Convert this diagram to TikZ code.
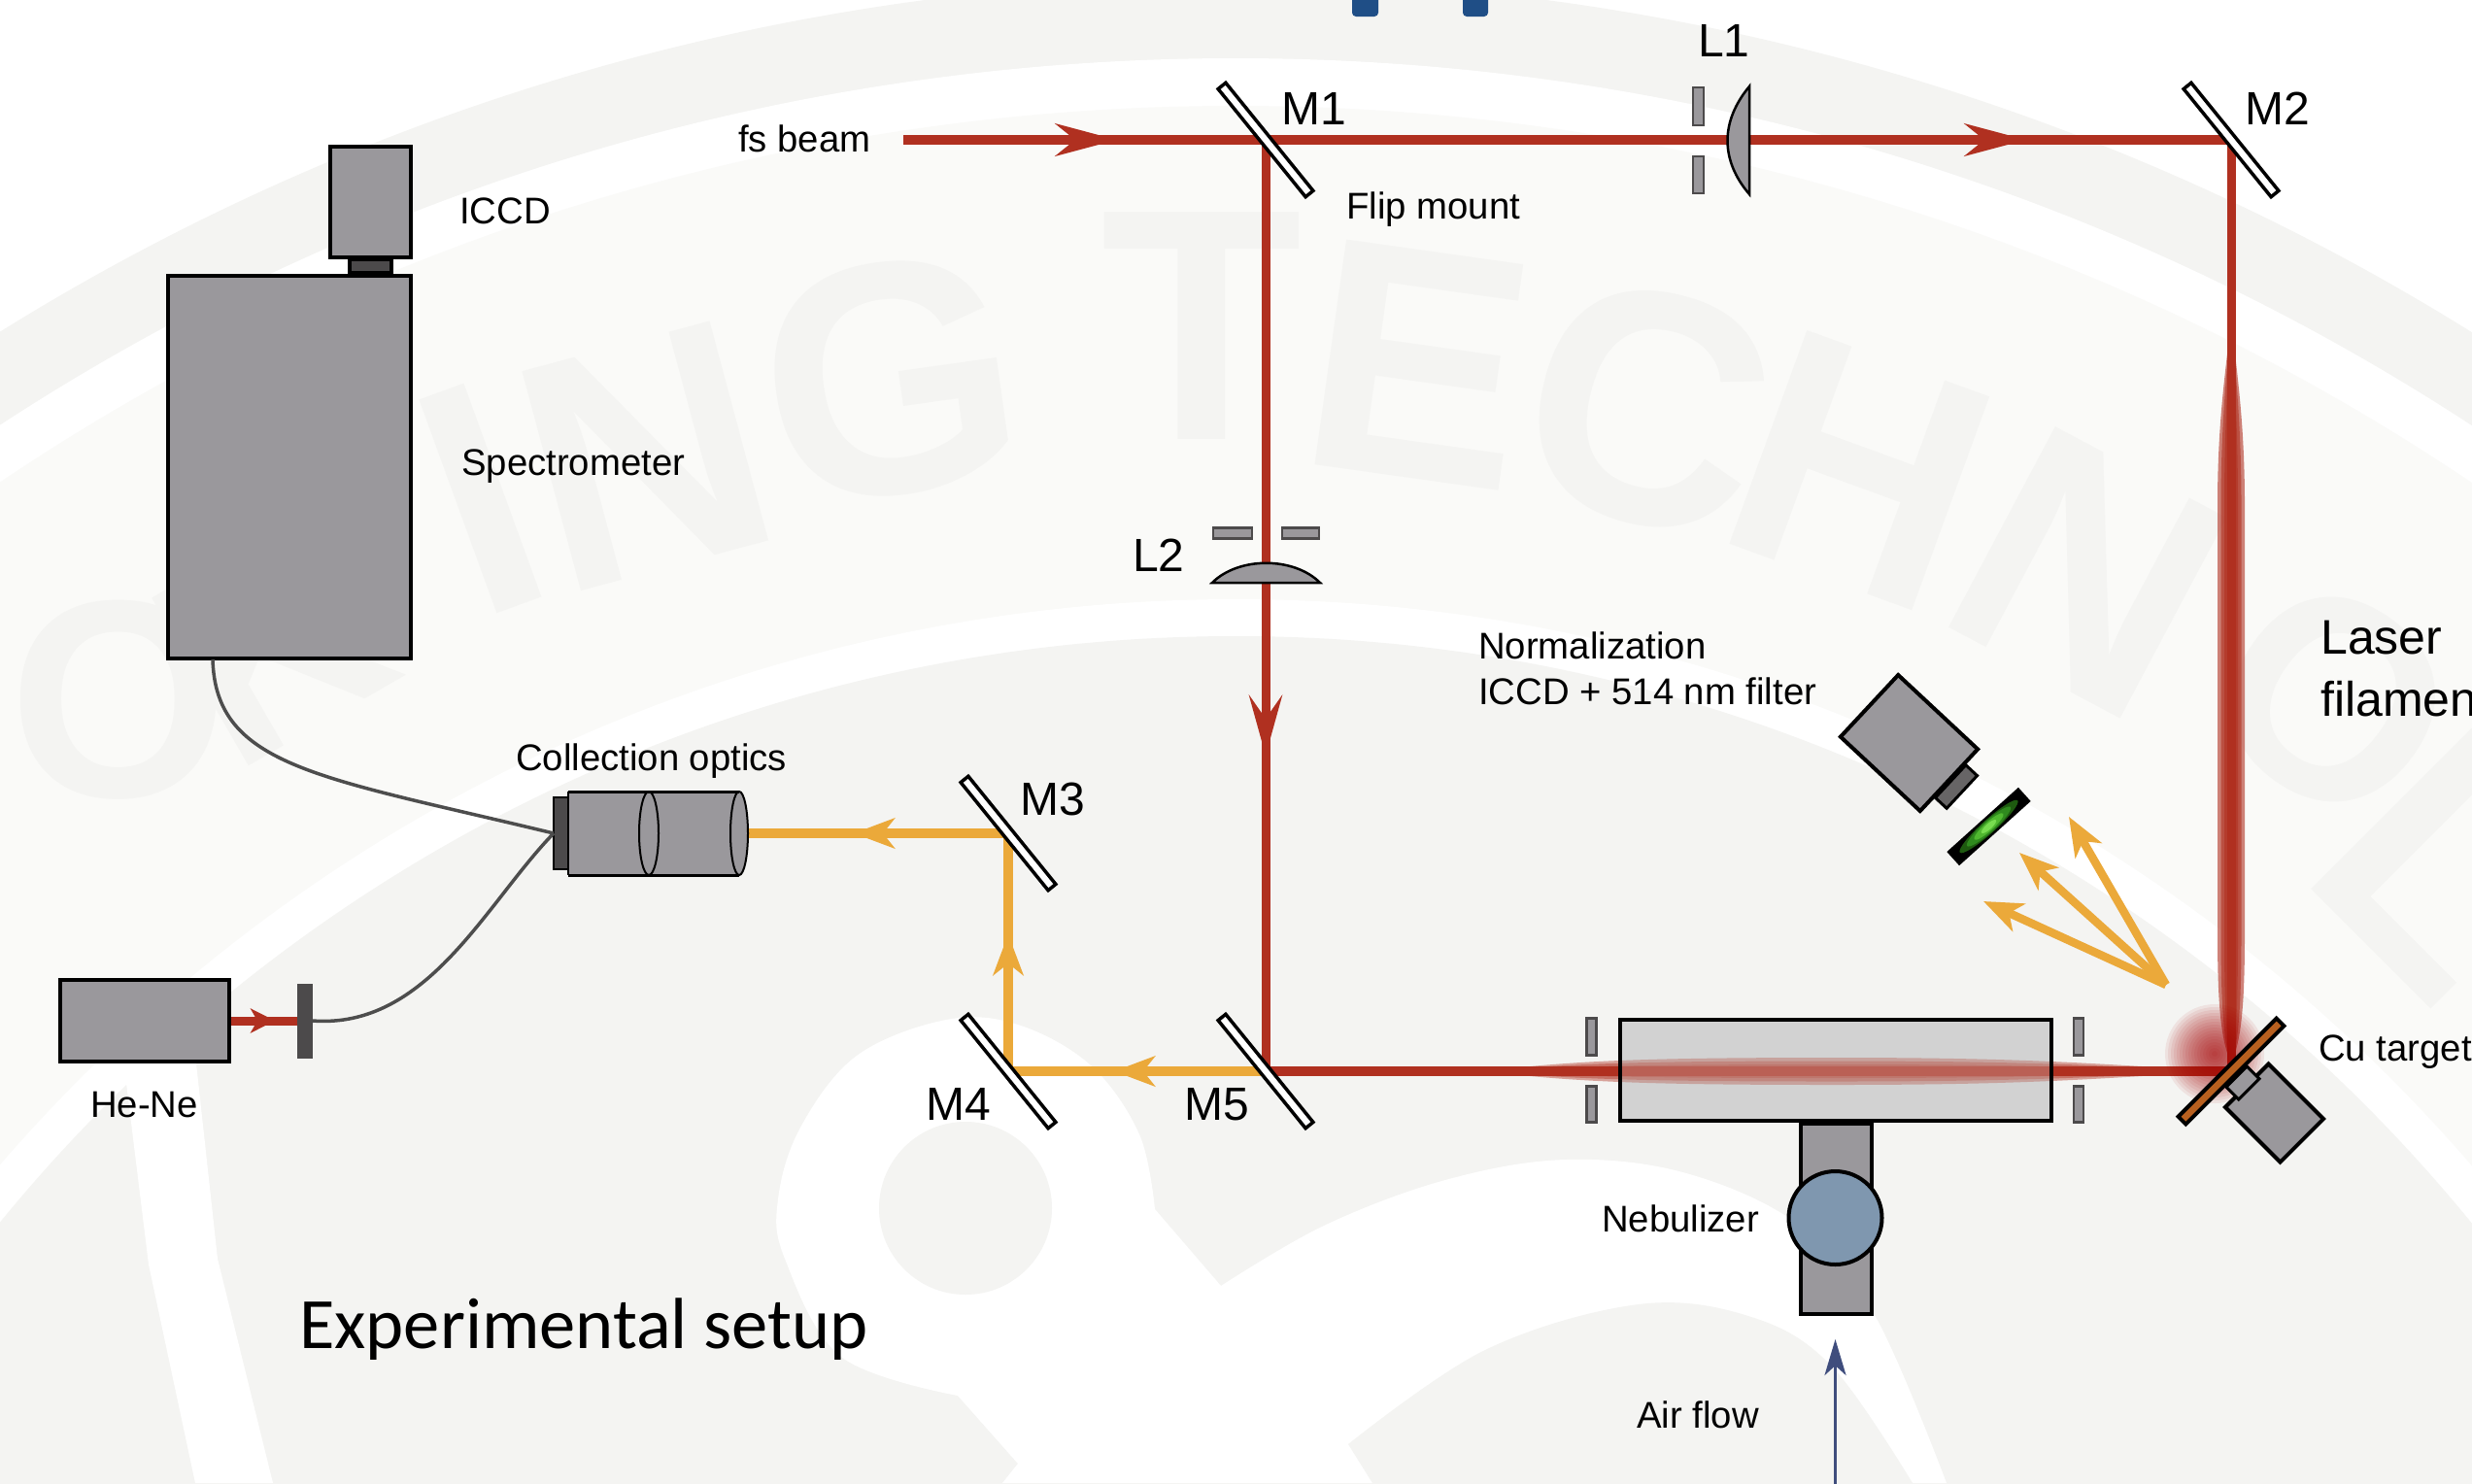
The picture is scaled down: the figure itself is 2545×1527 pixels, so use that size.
\documentclass[tikz,border=0pt]{standalone}
\usepackage{fontspec}
\setmainfont{Liberation Sans}
\newfontfamily\setupfont{Carlito}
\usetikzlibrary{arrows.meta}
\definecolor{band}{HTML}{F4F4F2}
\definecolor{midbg}{HTML}{FAFAF8}
\definecolor{devgray}{HTML}{9A989C}
\definecolor{darkgray}{HTML}{4C4A4B}
\definecolor{cellgray}{HTML}{D2D2D2}
\definecolor{redbeam}{HTML}{B03020}
\definecolor{orangebeam}{HTML}{EBA93A}
\definecolor{nebblue}{HTML}{7F97AF}
\definecolor{copper}{HTML}{B8601F}
\definecolor{airblue}{HTML}{3F4D7D}
\definecolor{logoblue}{HTML}{1F4E86}
\definecolor{fibre}{HTML}{4D4D4D}
\tikzset{
  x=1pt,y=-1pt,
  lab/.style={anchor=base west,inner sep=0pt,font=\fontsize{38.3}{46}\selectfont},
  biglab/.style={anchor=base west,inner sep=0pt,font=\fontsize{48}{56}\selectfont},
  wm/.style={inner sep=0pt,text=band,font=\fontsize{340}{350}\selectfont\bfseries},
  wmsmall/.style={inner sep=0pt,text=band,font=\fontsize{290}{300}\selectfont\bfseries},
  box/.style={rectangle,draw=black,fill=devgray,line width=4pt,inner sep=0pt},
  aperture/.style={rectangle,draw=darkgray,fill=devgray,line width=2.5pt,inner sep=0pt},
  mirror/.style={rectangle,draw=black,fill=white,line width=3.5pt,inner sep=0pt,minimum width=143pt,minimum height=10pt},
  lensbody/.style={draw=black,fill=devgray,line width=2.5pt},
  redb/.style={draw=redbeam,line width=10pt},
  redv/.style={draw=redbeam,line width=9pt},
  orb/.style={draw=orangebeam,line width=9.5pt},
  fibreline/.style={draw=fibre,line width=3.5pt},
  glow/.style={fill=redbeam,opacity=.42},
  redtip/.style={-{Stealth[length=63pt,width=33pt,inset=20pt]}},
  redthin/.style={-{Stealth[length=62pt,width=34pt,inset=24pt]}},
  ortip/.style={-{Stealth[length=42pt,width=31pt,inset=12pt]}},
  emit/.style={draw=orangebeam,line width=8.5pt,-{Stealth[length=40pt,width=31pt,inset=11pt]}},
}
\begin{document}
\begin{tikzpicture}
\path[use as bounding box] (0,0) rectangle (2545,1527);
\clip (0,0) rectangle (2545,1527);
% --- faint background seal
\fill[white] (0,0) rectangle (2545,1527);
\fill[band] (1272,2389) circle (2410);
\fill[white] (1272,2389) circle (2329);
\fill[midbg] (1272,2389) circle (2280);
\node[wmsmall] (wo1) at (122,721) {O};
\node[wmsmall,rotate=30] (wk) at (280,660) {K};
\node[wm,rotate=20] (wi) at (495,513) {I};
\node[wm,rotate=15] (wn1) at (665,470) {N};
\node[wm,rotate=8] (wg) at (917,390) {G};
\node[wm] (wt) at (1237,336) {T};
\node[wm,rotate=-8] (we) at (1460,375) {E};
\node[wm,rotate=-14] (wc) at (1696,420) {C};
\node[wm,rotate=-20] (wh) at (1915,485) {H};
\node[wm,rotate=-28] (wn2) at (2150,590) {N};
\node[wmsmall,rotate=-36] (wo2) at (2402,721) {O};
\node[wm,rotate=-45] (wl) at (2520,890) {L};
\fill[white] (1272,2297) circle (1680);
\fill[band] (1272,2297) circle (1642);
\fill[white] (122,1050) -- (196,1040) -- (224,1296) -- (281,1527) -- (201,1527) -- (153,1302) -- cycle;
\fill[white] plot[smooth,tension=.6] coordinates {(986,1437) (866,1397) (808,1296) (801,1235) (824,1161) (882,1087) (974,1050) (1048,1055) (1123,1097) (1173,1168) (1189,1245)}
  -- (1257,1324)
  -- plot[smooth,tension=.6] coordinates {(1257,1324) (1363,1262) (1488,1215) (1612,1194) (1736,1208) (1853,1262) (1931,1356) (2004,1527)}
  -- (1032,1527) -- (1048,1507) -- cycle;
\fill[band] (994,1244) circle (89);
\fill[band] plot[smooth,tension=.6] coordinates {(1388,1487) (1529,1390) (1687,1343) (1803,1356) (1886,1407) (1969,1527)} -- (1413,1527) -- cycle;
% --- cut-off parts at the top
\fill[logoblue,rounded corners=4pt] (1392,-10) rectangle (1419,17);
\fill[logoblue,rounded corners=4pt] (1506,-10) rectangle (1532,17);
% --- named anchors
\coordinate (fs) at (930,144);
\coordinate (a1) at (1150,144);
\coordinate (a2) at (2086,144);
\coordinate (a3) at (1303,778);
\coordinate (a4) at (1147,1103);
\coordinate (a5) at (1038,962);
\coordinate (a6) at (879,858);
\coordinate (plasma) at (2230,1014);
\coordinate (e1) at (2130,841);
\coordinate (e2) at (2079,878);
\coordinate (e3) at (2042,928);
\coordinate (airin) at (1889.5,1535);
\coordinate (airtip) at (1889.5,1379);
% --- cell base
\fill[cellgray] (1666,1049) rectangle (2113,1155);
% --- anchors for the beams
\node[mirror,rotate=-51,draw=none,fill=none] (m1) at (1303,144) {};
\node[mirror,rotate=-51,draw=none,fill=none] (m2) at (2297,144) {};
\node[mirror,rotate=-51,draw=none,fill=none] (m3) at (1038,858) {};
\node[mirror,rotate=-51,draw=none,fill=none] (m4) at (1038,1103) {};
\node[mirror,rotate=-51,draw=none,fill=none] (m5) at (1303,1103) {};
\node[rectangle,minimum width=143pt,minimum height=13pt,rotate=45] (target) at (2297,1103) {};
% --- beams
\draw[redb] (fs) -- (m1.center);
\draw[redb,redtip] (fs) -- (a1);
\draw[redb] (m1.center) -- (m2.center);
\draw[redb,redtip] (m1.center) -- (a2);
\draw[redv] (m1.center) -- (m5.center);
\draw[redv,redthin] (m1.center) -- (a3);
\draw[redb] (m5.center) -- (target.center);
\draw[redv] (m2.center) -- (target.center);
% --- filaments (glow)
\foreach \w in {14,10.5,7}{
  \fill[glow] (1530,1103) .. controls (1620,{1103-.8*\w}) and (1700,{1103-\w}) .. (1890,{1103-\w})
     .. controls (2080,{1103-\w}) and (2150,{1103-.6*\w}) .. (2285,1103)
     .. controls (2150,{1103+.6*\w}) and (2080,{1103+\w}) .. (1890,{1103+\w})
     .. controls (1700,{1103+\w}) and (1620,{1103+.8*\w}) .. (1530,1103) -- cycle;
  \fill[glow,opacity=.6] (2297,320) .. controls ({2297-.2*\w},370) and ({2297-\w},420) .. ({2297-\w},520)
     -- ({2297-\w},960)
     .. controls ({2297-\w},1030) and ({2297-.8*\w},1070) .. (2297,1095)
     .. controls ({2297+.8*\w},1070) and ({2297+\w},1030) .. ({2297+\w},960)
     -- ({2297+\w},520)
     .. controls ({2297+\w},420) and ({2297+.2*\w},370) .. (2297,320) -- cycle;
}
% --- cell overlay
\node[rectangle,draw=black,line width=4pt,fill=cellgray,fill opacity=.3,minimum width=444pt,minimum height=104pt,inner sep=0pt] (cell) at (1889.5,1102) {};
\node[aperture,minimum width=10pt,minimum height=38pt] (ca1) at (1638.5,1067.5) {};
\node[aperture,minimum width=10pt,minimum height=37pt] (ca2) at (1638.5,1137) {};
\node[aperture,minimum width=10pt,minimum height=38pt] (ca3) at (2140,1067.5) {};
\node[aperture,minimum width=10pt,minimum height=37pt] (ca4) at (2140,1137) {};
% --- plasma
\foreach \r in {51,48,...,3}{\fill[red!65!black,opacity=.07] (2280,1085) circle (\r);}
% --- orange path
\coordinate (coll) at (770,858);
\draw[orb] (m5.center) -- (m4.center);
\draw[orb,ortip] (m5.center) -- (a4);
\draw[orb] (m4.center) -- (m3.center);
\draw[orb,ortip] (m4.center) -- (a5);
\draw[orb] (m3.center) -- (coll);
\draw[orb,ortip] (m3.center) -- (a6);
% --- collection optics
\node[rectangle,draw=black,fill=darkgray,line width=2pt,inner sep=0pt,minimum width=15pt,minimum height=74pt] (collback) at (577.5,858) {};
\fill[devgray] (585,815) rectangle (761,901);
\draw[fill=devgray,line width=2pt] (761,858) ellipse[x radius=9,y radius=43];
\draw[line width=2pt] (668,858) ellipse[x radius=10,y radius=43];
\draw[line width=3pt] (585,815) -- (761,815) (585,901) -- (761,901);
\draw[line width=2pt] (585,815) -- (585,901);
% --- spectrometer
\node[box,minimum width=250pt,minimum height=394pt] (spec) at (297.5,480.5) {};
\node[box,minimum width=83pt,minimum height=114pt] (iccd) at (381,208) {};
\node[rectangle,draw=black,fill=darkgray,line width=4pt,inner sep=0pt,minimum width=43pt,minimum height=14pt] (neck) at (381,274) {};
% --- he-ne
\node[box,minimum width=174pt,minimum height=84pt] (hene) at (149,1051) {};
\node[rectangle,draw=darkgray,fill=darkgray,line width=2pt,inner sep=0pt,minimum width=14pt,minimum height=75pt] (plate) at (313.5,1051) {};
\coordinate (hetip) at (283,1051);
\draw[redv] (hene.east) -- (plate.west);
\draw[redv,-{Stealth[length=25pt,width=25pt,inset=7pt]}] (hene.east) -- (hetip);
% --- fibres
\coordinate (fa) at (219,679);
\coordinate (fb) at (570,858);
\draw[fibreline] (fa) .. controls (222,790) and (330,800) .. (fb);
\draw[fibreline] (plate.east) .. controls (440,1060) and (500,930) .. (fb);
% --- L1
\node[aperture,minimum width=11pt,minimum height=39pt] (l1a) at (1748.5,109.5) {};
\node[aperture,minimum width=11pt,minimum height=38pt] (l1b) at (1748.5,180) {};
\draw[lensbody] (1801,89) .. controls (1771,125) and (1771,165) .. (1801,200) -- cycle;
% --- L2
\node[aperture,minimum width=40pt,minimum height=11pt] (l2a) at (1269,549) {};
\node[aperture,minimum width=38pt,minimum height=11pt] (l2b) at (1339,549) {};
\draw[lensbody] (1248,600) .. controls (1275,573) and (1332,573) .. (1359,600) -- cycle;
% --- mirrors
\foreach \p in {m1,m2,m3,m4,m5}{
  \node[mirror,rotate=-51] (\p face) at (\p.center) {};
}
% --- target
\node[box,minimum width=80pt,minimum height=63pt,rotate=-45] (tbox) at (2341.5,1146) {};
\node[rectangle,draw=black,fill=devgray,line width=3pt,inner sep=0pt,minimum width=18pt,minimum height=30pt,rotate=-45] (tstub) at (2309,1115) {};
\node[rectangle,draw=black,fill=copper,line width=4pt,inner sep=0pt,minimum width=143pt,minimum height=11pt,rotate=45] (tface) at (target.center) {};
% --- normalisation camera
\node[box,minimum width=112pt,minimum height=87pt,rotate=-43] (ncam) at (1965.5,765) {};
\node[rectangle,draw=black,fill=darkgray!85,line width=3pt,inner sep=0pt,minimum width=16pt,minimum height=46pt,rotate=-43] (nneck) at (2014,810) {};
\node[rectangle,draw=black,fill=black,line width=2pt,inner sep=0pt,minimum width=97pt,minimum height=17pt,rotate=42] (nfilt) at (2047.5,851) {};
\begin{scope}[shift={(2047.5,851)},rotate=42]
  \foreach \a/\b/\c in {40/7/1E5A10,30/6/2F8A1E,20/4.5/50B830,10/3/78DC50}{
    \definecolor{gc}{HTML}{\c}
    \fill[gc] (0,0) ellipse[x radius=\a,y radius=\b];
  }
\end{scope}
% --- emission
\draw[emit] (plasma) -- (e1);
\draw[emit] (plasma) -- (e2);
\draw[emit] (plasma) -- (e3);
% --- nebuliser
\node[box,minimum width=73pt,minimum height=196pt] (neb) at (1890,1255) {};
\node[circle,draw=black,fill=nebblue,line width=4pt,inner sep=0pt,minimum size=96pt] (nebc) at (1889.5,1254) {};
\draw[draw=airblue,line width=3.5pt,-{Stealth[length=37pt,width=22pt,inset=10pt]}] (airin) -- (airtip);
% --- labels
\node[lab] (tfs) at (760,156) {fs beam};
\node[lab] (ticcd) at (473,230) {ICCD};
\node[lab] (tspec) at (475,489) {Spectrometer};
\node[lab] (tflip) at (1386,225) {Flip mount};
\node[biglab] (tm1) at (1319,128) {M1};
\node[biglab] (tm2) at (2311,128) {M2};
\node[biglab] (tl1) at (1748,58) {L1};
\node[biglab] (tl2) at (1166,588) {L2};
\node[biglab] (tm3) at (1050,839) {M3};
\node[biglab] (tm4) at (953,1153) {M4};
\node[biglab] (tm5) at (1219,1153) {M5};
\node[lab] (tcoll) at (531,793) {Collection optics};
\node[lab] (thene) at (93,1150) {He-Ne};
\node[lab] (tnorm) at (1522,678) {Normalization};
\node[lab] (tnorm2) at (1522,725) {ICCD + 514 nm filter};
\node[anchor=base west,inner sep=0pt,font=\fontsize{50}{58}\selectfont] (tlaser) at (2389,673) {Laser};
\node[anchor=base west,inner sep=0pt,font=\fontsize{50}{58}\selectfont] (tfil) at (2389,737) {filamen};
\node[lab] (tcu) at (2387,1092) {Cu target};
\node[lab] (tneb) at (1649,1268) {Nebulizer};
\node[lab] (tair) at (1685,1470) {Air flow};
\node[anchor=base west,inner sep=0pt,font=\fontsize{74.5}{84}\setupfont] (tsetup) at (308,1388) {Experimental setup};
\end{tikzpicture}
\end{document}
